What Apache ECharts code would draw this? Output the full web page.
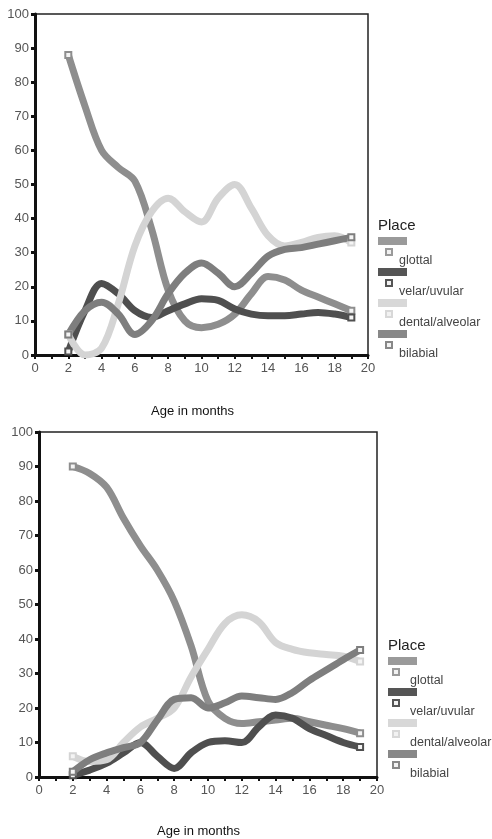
<!DOCTYPE html>
<html>
<head>
<meta charset="utf-8">
<script src="https://cdn.jsdelivr.net/npm/echarts@6/dist/echarts.min.js"></script>
<style>
  html, body { margin: 0; padding: 0; background: #fff; }
  #chart { width: 492px; height: 839px; }
</style>
</head>
<body>
<div id="chart"></div>
<script>
// months shown on the x axis (data points)
const months = [2, 3, 4, 5, 6, 7, 8, 9, 10, 11, 12, 13, 14, 15, 16, 17, 18, 19]
const placeNames = ['glottal', 'velar/uvular', 'dental/alveolar', 'bilabial']

// top chart
const glottal1 = [88, 73, 60, 55, 51, 37, 19, 10, 8, 9, 12, 18, 23, 22, 19, 17, 15, 13]
const velar1 = [1, 13, 21, 18, 13, 11, 13, 15, 16.5, 16, 13.5, 12, 11.5, 11.5, 12, 12.5, 12, 11]
const dental1 = [6, 0, 2, 15, 32, 42, 46, 42, 39, 46, 50, 43, 35, 32, 33, 34.5, 35, 33]
const bilabial1 = [6, 13, 15.5, 12, 6, 10, 18, 24, 27, 24, 20, 24, 29, 31, 31.5, 32.5, 33.5, 34.5]

// bottom chart
const glottal2 = [90, 88, 84, 75, 67, 60, 51, 38, 22, 17, 15.5, 16, 16.5, 17, 16, 15, 14, 12.7]
const velar2 = [0.5, 2, 4, 7, 10, 6, 2.5, 7, 10, 10.5, 10, 14.5, 18, 17, 14, 12, 10, 8.7]
const dental2 = [6, 4.5, 5, 10, 14.5, 17, 20, 29, 37, 44.5, 47, 45, 39, 37, 36, 35.5, 35, 33.5]
const bilabial2 = [1.5, 5, 7, 8.5, 10, 16.5, 22.5, 23, 20, 21.5, 23.5, 23, 22.5, 24.5, 28, 31, 34, 36.8]

const lineColors = ['#8e8e8e', '#4f4f4f', '#d4d4d4', '#7e7e7e']
const keyColors = ['#9a9a9a', '#555555', '#d8d8d8', '#888888']
const font = "'Liberation Sans', Arial, sans-serif"

function pairs(vals) {
  return months.map(function(m, i) { return [m, vals[i]] })
}

function makeSeries(sets, gridIdx) {
  return sets.map(function(vals, k) {
    const last = vals.length - 1
    return {
      name: placeNames[k],
      type: 'line',
      xAxisIndex: gridIdx,
      yAxisIndex: gridIdx,
      data: pairs(vals),
      smooth: 0.35,
      clip: false,
      symbol: function(value, params) {
        return params.dataIndex === 0 || params.dataIndex === last ? 'rect' : 'none'
      },
      symbolSize: 6,
      lineStyle: { color: lineColors[k], width: 7 },
      itemStyle: { color: '#f4f4f4', borderColor: lineColors[k], borderWidth: 2 },
      emphasis: { disabled: true },
      z: 3
    }
  })
}

function xAx(gridIdx) {
  return {
    type: 'value',
    gridIndex: gridIdx,
    min: 0,
    max: 20,
    interval: 1,
    splitLine: { show: false },
    axisLine: { lineStyle: { color: '#111', width: 3 } },
    axisTick: { length: 4, lineStyle: { color: '#111', width: 2 } },
    axisLabel: {
      color: '#555',
      fontSize: 13,
      fontFamily: font,
      margin: 7,
      formatter: function(v) { return v % 2 === 0 ? String(v) : '' }
    }
  }
}

function yAx(gridIdx) {
  return {
    type: 'value',
    gridIndex: gridIdx,
    min: 0,
    max: 100,
    interval: 10,
    splitLine: { show: false },
    axisLine: { lineStyle: { color: '#111', width: 3 } },
    axisTick: { length: 4, lineStyle: { color: '#111', width: 3 } },
    axisLabel: { color: '#555', fontSize: 13, fontFamily: font, margin: 6 }
  }
}

// key at the right of each plot: bar, small square, label
function keyGraphics(x, y, mx, tx) {
  const out = [{
    type: 'text', left: x, top: y - 9,
    style: { text: 'Place', fill: '#222', font: '15px ' + font }
  }]
  placeNames.forEach(function(name, i) {
    const by = y + 10 + i * 31
    out.push({
      type: 'rect', left: x, top: by,
      shape: { width: 29, height: 8 },
      style: { fill: keyColors[i] }
    })
    out.push({
      type: 'rect', left: mx - 3, top: by + 11,
      shape: { width: 6, height: 6 },
      style: { fill: '#f2f2f2', stroke: keyColors[i], lineWidth: 2 }
    })
    out.push({
      type: 'text', left: tx, top: by + 17,
      style: { text: name, fill: '#444', font: '12.5px ' + font }
    })
  })
  return out
}

const chart = echarts.init(document.getElementById('chart'))
const option = {
  animation: false,
  backgroundColor: '#fff',
  title: [
    { text: 'Age in months', left: 151, top: 405, padding: 0, textStyle: { fontSize: 13, fontWeight: 'normal', color: '#111', fontFamily: font } },
    { text: 'Age in months', left: 157, top: 825, padding: 0, textStyle: { fontSize: 13, fontWeight: 'normal', color: '#111', fontFamily: font } }
  ],
  grid: [
    { left: 35, top: 14, width: 333, height: 341, show: true, borderColor: '#222', borderWidth: 1.5 },
    { left: 39, top: 432, width: 338, height: 345, show: true, borderColor: '#222', borderWidth: 1.5 }
  ],
  xAxis: [xAx(0), xAx(1)],
  yAxis: [yAx(0), yAx(1)],
  series: makeSeries([glottal1, velar1, dental1, bilabial1], 0)
    .concat(makeSeries([glottal2, velar2, dental2, bilabial2], 1)),
  graphic: keyGraphics(378, 227, 388, 399).concat(keyGraphics(388, 647, 395, 410))
}
chart.setOption(option)
</script>
</body>
</html>
